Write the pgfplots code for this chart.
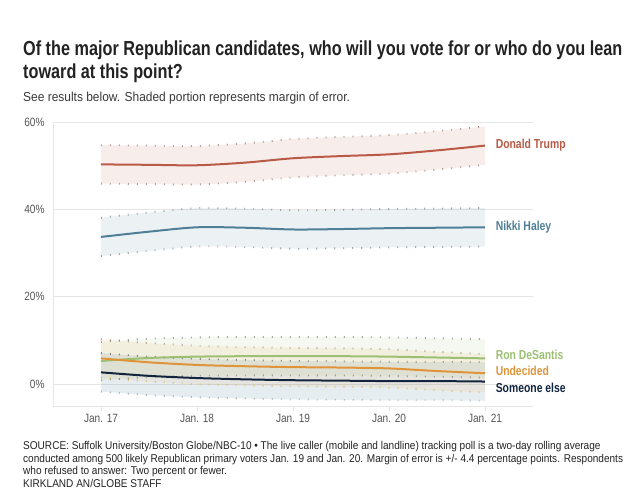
\documentclass[border=0pt]{standalone}
\usepackage{fontspec}
\setmainfont{Liberation Sans}[FakeStretch=0.84]
\newfontfamily\cond{Liberation Sans}[FakeStretch=0.80]
\newfontfamily\subf{Liberation Sans}[FakeStretch=0.92]
\newfontfamily\srcf{Liberation Sans}[FakeStretch=0.89]
\usepackage{pgfplots}
\usepackage{pgfplotstable}
\pgfplotsset{compat=1.18}
\usepgfplotslibrary{fillbetween}
\definecolor{trump}{HTML}{B85A45}
\definecolor{haley}{HTML}{4E7F96}
\definecolor{desantis}{HTML}{9CBF72}
\definecolor{undec}{HTML}{E0943A}
\definecolor{selse}{HTML}{12253F}
\definecolor{txt}{HTML}{222222}
\definecolor{gtxt}{HTML}{555555}
\definecolor{gridc}{HTML}{E6E6E6}

\pgfplotstableread{
x y hi lo
17 50.3 54.7 45.9
17.5 50.2 54.6 45.8
18 50.1 54.5 45.7
18.5 50.7 55.1 46.3
19 51.7 56.1 47.3
19.5 52.2 56.6 47.8
20 52.6 57.0 48.2
20.5 53.5 57.9 49.1
21 54.6 59.0 50.2
}\trumpT
\pgfplotstableread{
x y hi lo
17 33.7 38.1 29.3
17.5 34.9 39.3 30.5
18 35.9 40.3 31.5
18.5 35.8 40.2 31.4
19 35.4 39.8 31.0
19.5 35.5 39.9 31.1
20 35.7 40.1 31.3
20.5 35.8 40.2 31.4
21 35.9 40.3 31.5
}\haleyT
\pgfplotstableread{
x y hi lo
17 5.3 9.7 0.9
17.5 6.0 10.4 1.6
18 6.3 10.7 1.9
18.5 6.4 10.8 2.0
19 6.4 10.8 2.0
19.5 6.4 10.8 2.0
20 6.3 10.7 1.9
20.5 6.1 10.5 1.7
21 5.9 10.3 1.5
}\desT
\pgfplotstableread{
x y hi lo
17 5.9 10.3 1.5
17.5 5.0 9.4 0.6
18 4.4 8.8 0.0
18.5 4.1 8.5 -0.3
19 3.9 8.3 -0.5
19.5 3.8 8.2 -0.6
20 3.6 8.0 -0.8
20.5 3.0 7.4 -1.4
21 2.5 6.9 -1.9
}\undT
\pgfplotstableread{
x y hi lo
17 2.7 7.1 -1.7
17.5 1.9 6.3 -2.5
18 1.4 5.8 -3.0
18.5 1.1 5.5 -3.3
19 0.9 5.3 -3.5
19.5 0.8 5.2 -3.6
20 0.7 5.1 -3.7
20.5 0.7 5.1 -3.7
21 0.6 5.0 -3.8
}\seT

\begin{document}
\begin{tikzpicture}[x=1pt,y=1pt]
\path (0,0) rectangle (640,499);
\node[anchor=base west,inner sep=0,font=\cond\bfseries\fontsize{20.3}{24}\selectfont,text=txt] at (23,443) {Of the major Republican candidates, who will you vote for or who do you lean};
\node[anchor=base west,inner sep=0,font=\cond\bfseries\fontsize{20.3}{24}\selectfont,text=txt] at (23,420) {toward at this point?};
\node[anchor=base west,inner sep=0,font=\subf\fontsize{13}{15}\selectfont,text=txt!90] at (23,397) {See results below. Shaded portion represents margin of error.};

\begin{axis}[
  at={(53pt,93pt)}, anchor=south west,
  scale only axis, width=480pt, height=284pt,
  xmin=16.5, xmax=21.5, ymin=-5, ymax=60,
  xtick={17,18,19,20,21},
  xticklabels={Jan. 17,Jan. 18,Jan. 19,Jan. 20,Jan. 21},
  ytick={0,20,40,60},
  yticklabel={\pgfmathprintnumber{\tick}\%},
  /pgf/number format/assume math mode=true,
  ticklabel style={font=\fontsize{12}{14}\selectfont, text=gtxt},
  axis x line*=bottom, axis y line*=left,
  axis line style={draw=gridc, line width=0.8pt},
  x axis line style={-}, y axis line style={-},
  ymajorgrids, grid style={draw=gridc, line width=0.8pt},
  xtick style={draw=gridc, line width=0.8pt}, tick align=outside,
  major tick length=5pt,
  ytick style={draw=none},
  clip=false,
]
% bands
\addplot[name path=tu, draw=none, smooth] table[x=x,y=hi] {\trumpT};
\addplot[name path=tl, draw=none, smooth] table[x=x,y=lo] {\trumpT};
\addplot[fill=trump, fill opacity=0.11, draw=none] fill between[of=tu and tl];
\addplot[name path=hu, draw=none, smooth] table[x=x,y=hi] {\haleyT};
\addplot[name path=hl, draw=none, smooth] table[x=x,y=lo] {\haleyT};
\addplot[fill=haley, fill opacity=0.11, draw=none] fill between[of=hu and hl];
\addplot[name path=su, draw=none, smooth] table[x=x,y=hi] {\seT};
\addplot[name path=sl, draw=none, smooth] table[x=x,y=lo] {\seT};
\addplot[fill=haley, fill opacity=0.14, draw=none] fill between[of=su and sl];
\addplot[name path=uu, draw=none, smooth] table[x=x,y=hi] {\undT};
\addplot[name path=ul, draw=none, smooth] table[x=x,y=lo] {\undT};
\addplot[fill=undec, fill opacity=0.10, draw=none] fill between[of=uu and ul];
\addplot[name path=du, draw=none, smooth] table[x=x,y=hi] {\desT};
\addplot[name path=dl, draw=none, smooth] table[x=x,y=lo] {\desT};
\addplot[fill=desantis, fill opacity=0.10, draw=none] fill between[of=du and dl];
% dotted edges
\pgfplotsset{dots/.style={smooth, line width=1.8pt, dash pattern=on 0.7pt off 8.3pt}}
\addplot[dots, draw=trump!40!gray] table[x=x,y=hi] {\trumpT};
\addplot[dots, draw=trump!40!gray] table[x=x,y=lo] {\trumpT};
\addplot[dots, draw=haley!30!gray] table[x=x,y=hi] {\haleyT};
\addplot[dots, draw=haley!30!gray] table[x=x,y=lo] {\haleyT};
\addplot[dots, draw=selse!50!gray] table[x=x,y=hi] {\seT};
\addplot[dots, draw=haley!60!gray!80] table[x=x,y=lo] {\seT};
\addplot[dots, draw=undec!50!black!70] table[x=x,y=hi] {\undT};
\addplot[dots, draw=undec!80!yellow] table[x=x,y=lo] {\undT};
\addplot[dots, draw=desantis!40!black!70] table[x=x,y=hi] {\desT};
\addplot[dots, draw=desantis!40!black!70] table[x=x,y=lo] {\desT};
% lines
\addplot[smooth, draw=trump, line width=2pt] table[x=x,y=y] {\trumpT};
\addplot[smooth, draw=haley, line width=2pt] table[x=x,y=y] {\haleyT};
\addplot[smooth, draw=desantis, line width=2pt] table[x=x,y=y] {\desT};
\addplot[smooth, draw=undec, line width=2pt] table[x=x,y=y] {\undT};
\addplot[smooth, draw=selse, line width=2pt] table[x=x,y=y] {\seT};
% labels
\begin{scope}[every node/.style={anchor=west, inner sep=0, font=\cond\bfseries\fontsize{13}{15}\selectfont}]
\node[text=trump] at (axis cs:21.11,54.6) {Donald Trump};
\node[text=haley] at (axis cs:21.11,36.0) {Nikki Haley};
\node[text=desantis] at (axis cs:21.11,6.6) {Ron DeSantis};
\node[text=undec] at (axis cs:21.11,3.0) {Undecided};
\node[text=selse] at (axis cs:21.11,-0.8) {Someone else};
\end{scope}
\end{axis}

\begin{scope}[every node/.style={anchor=base west, inner sep=0, font=\srcf\fontsize{11.3}{13}\selectfont, text=txt}]
\node at (23,50) {SOURCE: Suffolk University/Boston Globe/NBC-10 \textbullet{} The live caller (mobile and landline) tracking poll is a two-day rolling average};
\node at (23,37) {conducted among 500 likely Republican primary voters Jan. 19 and Jan. 20. Margin of error is +/- 4.4 percentage points. Respondents};
\node at (23,24.5) {who refused to answer: Two percent or fewer.};
\node at (23,12) {KIRKLAND AN/GLOBE STAFF};
\end{scope}
\end{tikzpicture}
\end{document}
